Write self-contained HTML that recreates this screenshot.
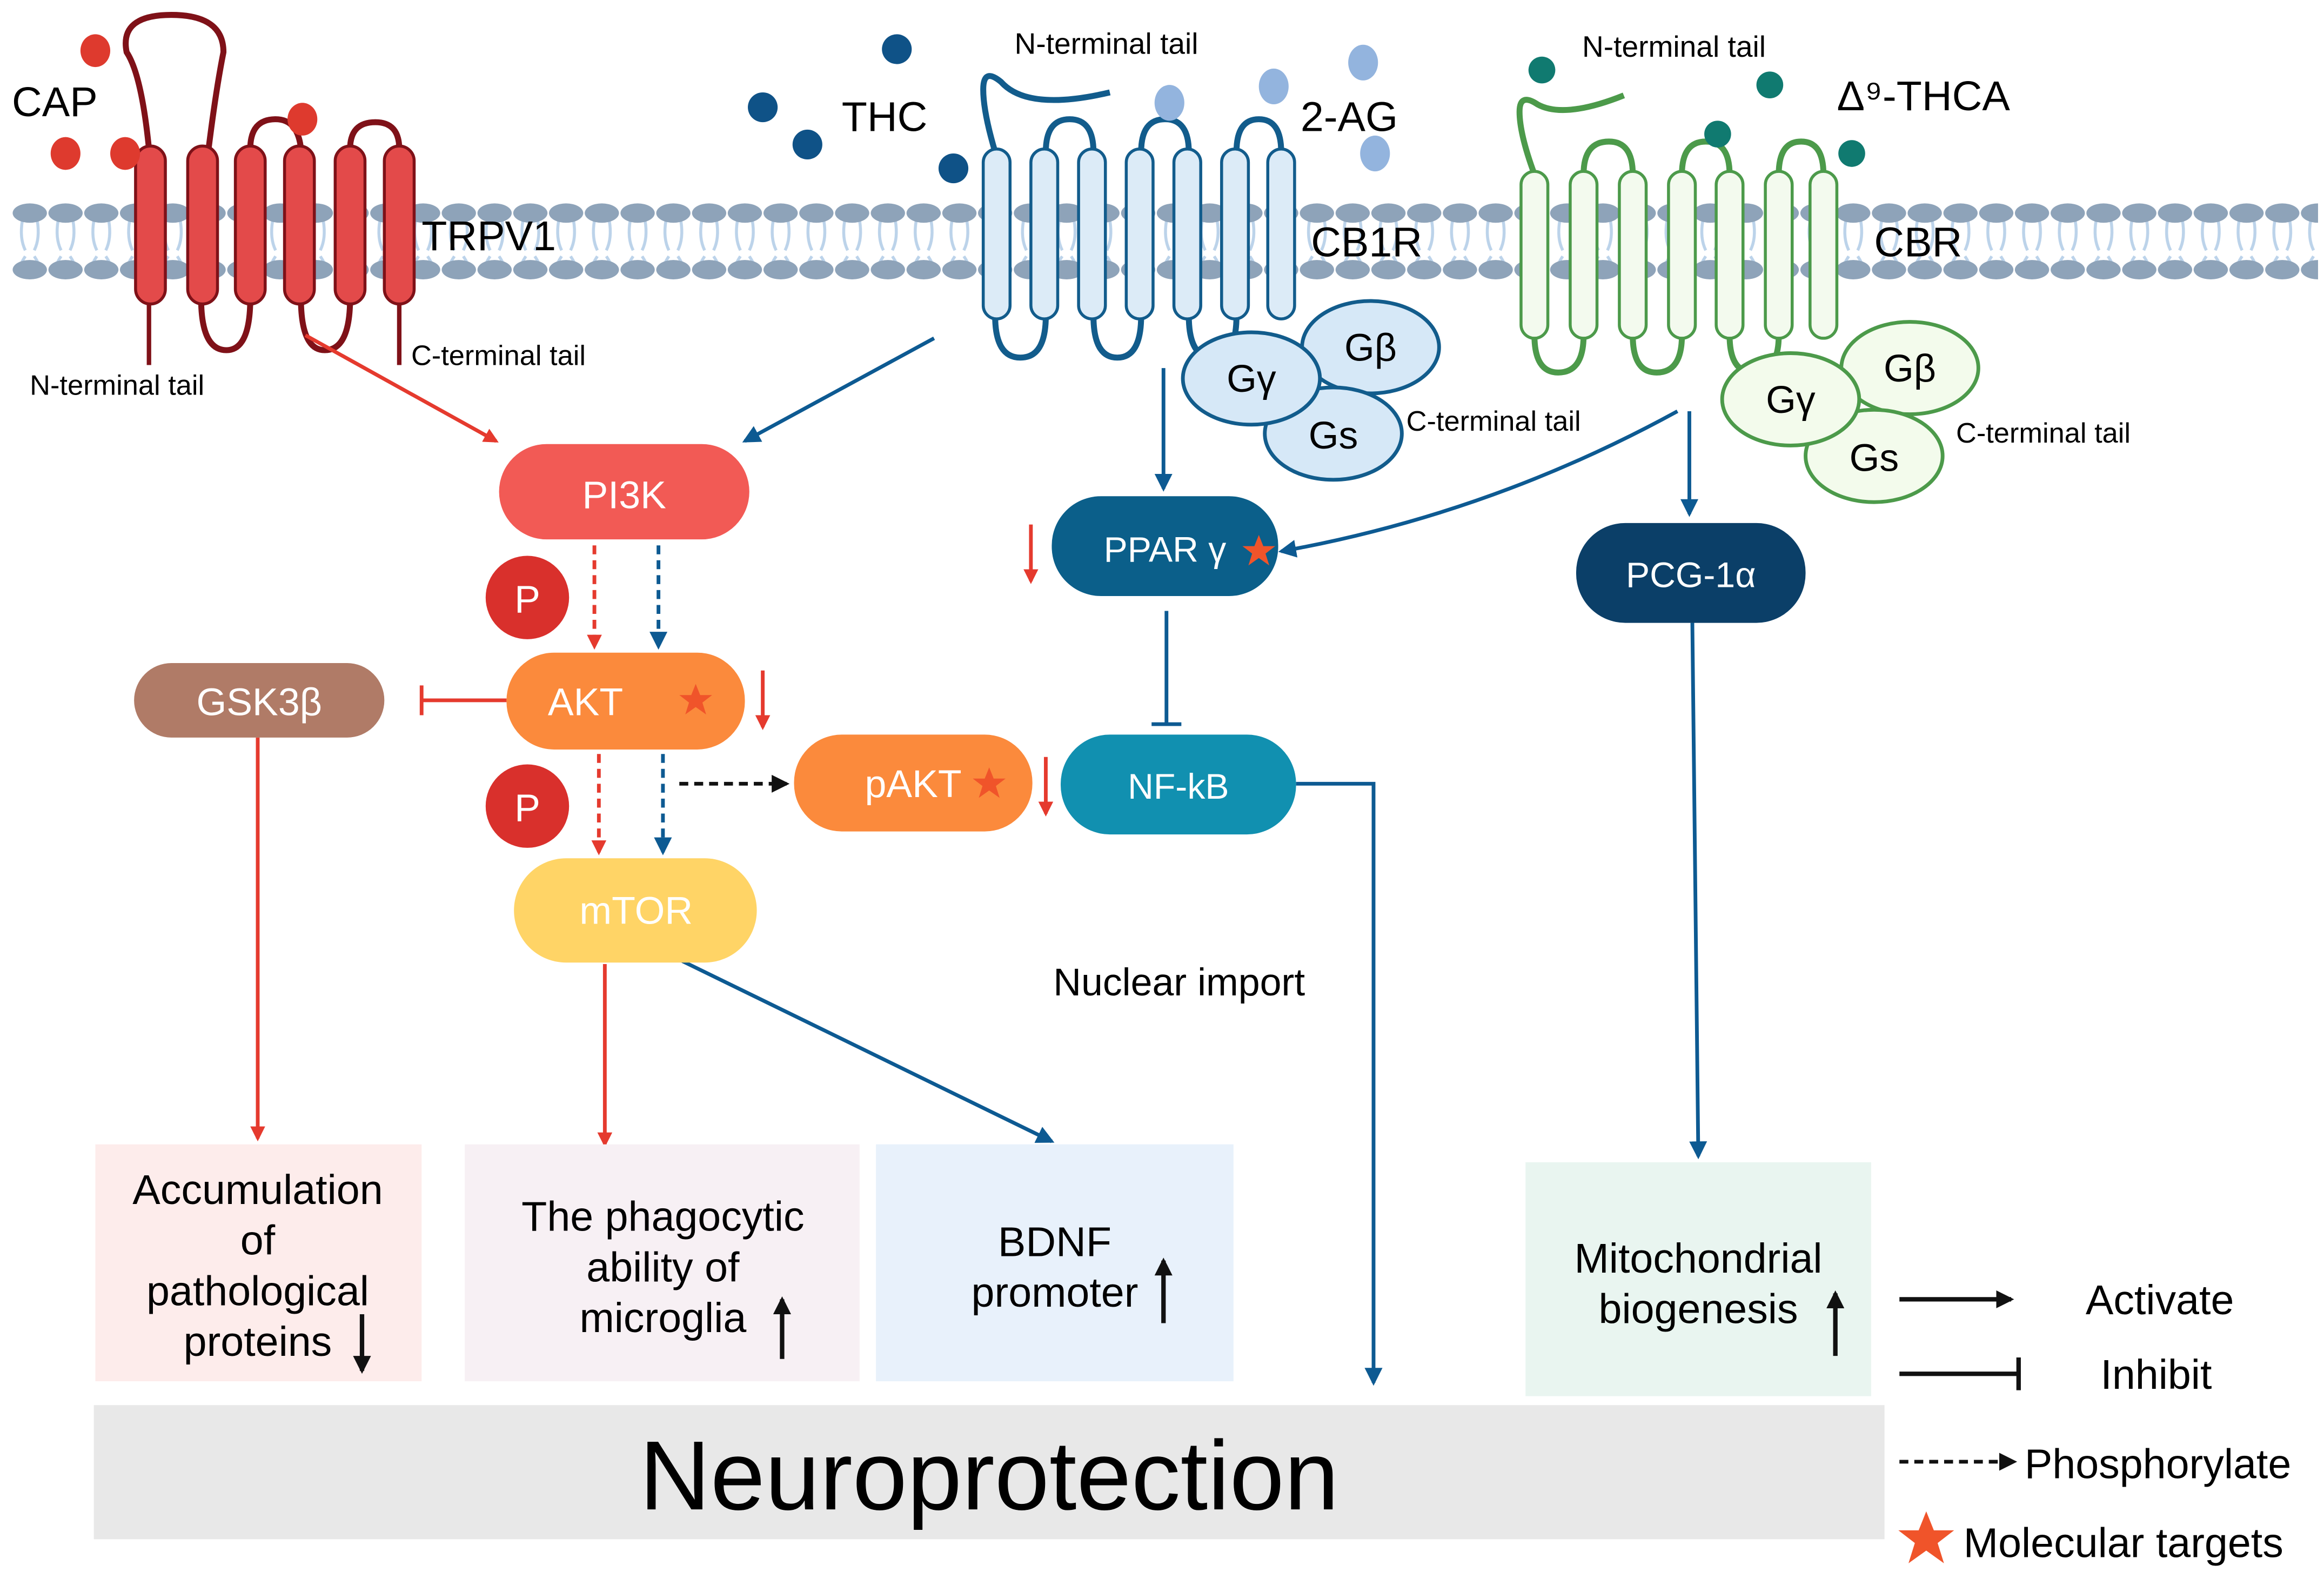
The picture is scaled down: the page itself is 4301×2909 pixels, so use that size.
<!DOCTYPE html>
<html><head><meta charset="utf-8"><style>
html,body{margin:0;padding:0;background:#fff;}
svg{display:block;}
text{font-family:"Liberation Sans",Arial,sans-serif;}
</style></head><body>
<svg width="4301" height="2909" viewBox="0 0 1560 1055" preserveAspectRatio="none" xmlns="http://www.w3.org/2000/svg">
<defs>
<pattern id="lip" x="8" y="0" width="24" height="1055" patternUnits="userSpaceOnUse">
<path d="M7,148 Q5,160 9,168 M17,148 Q19,160 15,168 M9,172 Q5,178 7,178 M15,172 Q19,178 17,178" stroke="#bcd3ea" stroke-width="2" fill="none"/>
<ellipse cx="12" cy="143" rx="11.5" ry="6.5" fill="#8ea3b9"/>
<ellipse cx="12" cy="181" rx="11.5" ry="6.5" fill="#8ea3b9"/>
</pattern>
<marker id="ar" markerWidth="10" markerHeight="10" refX="8" refY="5" orient="auto" markerUnits="userSpaceOnUse"><path d="M0,0 L10,5 L0,10 z" fill="#e53a2e"/></marker>
<marker id="ab" markerWidth="12" markerHeight="12" refX="10" refY="6" orient="auto" markerUnits="userSpaceOnUse"><path d="M0,0 L12,6 L0,12 z" fill="#0d5a92"/></marker>
<marker id="ak" markerWidth="12" markerHeight="12" refX="10" refY="6" orient="auto" markerUnits="userSpaceOnUse"><path d="M0,0 L12,6 L0,12 z" fill="#111"/></marker>
<g id="star"><path d="M0,-11 L3,-3.5 L11,-3.5 L4.5,1.5 L7,9.5 L0,4.5 L-7,9.5 L-4.5,1.5 L-11,-3.5 L-3,-3.5 z" fill="#f0542a"/></g>
</defs>
<rect width="1560" height="1055" fill="#fff"/>
<rect x="8" y="130" width="1548" height="60" fill="url(#lip)"/>

<!-- TRPV1 -->
<g stroke="#7f1118" stroke-width="4" fill="none">
<path d="M100,100 Q95,50 85,35 Q80,10 115,10 Q150,10 150,35 Q145,60 140,100"/>
<path d="M168,100 Q168,80 185,80 Q200,80 202,100"/>
<path d="M235,100 Q235,82 252,82 Q268,82 268,100"/>
<path d="M135,200 Q135,235 152,235 Q168,235 168,200"/>
<path d="M202,200 Q202,235 218,235 Q235,235 235,200"/>
<path d="M100,200 L100,245" stroke-width="3"/>
<path d="M268,200 L268,245" stroke-width="3"/>
</g>
<g fill="#e34a4a" stroke="#7f1118" stroke-width="2">
<rect x="91" y="98" width="20" height="106" rx="10"/><rect x="126" y="98" width="20" height="106" rx="10"/><rect x="158" y="98" width="20" height="106" rx="10"/><rect x="191" y="98" width="20" height="106" rx="10"/><rect x="225" y="98" width="20" height="106" rx="10"/><rect x="258" y="98" width="20" height="106" rx="10"/>
</g>
<g fill="#de3a2e"><ellipse cx="64" cy="34" rx="10" ry="11"/><ellipse cx="44" cy="103" rx="10" ry="11"/><ellipse cx="84" cy="103" rx="10" ry="11"/><ellipse cx="203" cy="80" rx="10" ry="11"/></g>
<text x="8" y="78" font-size="28">CAP</text>
<text x="283" y="168" font-size="28">TRPV1</text>
<text x="276" y="245" font-size="19">C-terminal tail</text>
<text x="20" y="265" font-size="19">N-terminal tail</text>

<!-- CB1R -->
<g stroke="#125c8c" stroke-width="4" fill="none">
<path d="M668,102 Q660,75 660,60 Q660,45 672,55 Q690,75 745,62"/>
<path d="M702,102 Q702,80 718,80 Q734,80 734,102"/>
<path d="M766,102 Q766,80 782,80 Q798,80 798,102"/>
<path d="M830,102 Q830,80 845,80 Q860,80 860,102"/>
<path d="M668,212 Q668,240 685,240 Q702,240 702,212"/>
<path d="M734,212 Q734,240 750,240 Q766,240 766,212"/>
<path d="M798,212 Q798,240 814,240 Q830,240 830,212"/>
</g>
<g fill="#dcebf7" stroke="#125c8c" stroke-width="2">
<rect x="660" y="100" width="18" height="114" rx="9"/><rect x="692" y="100" width="18" height="114" rx="9"/><rect x="724" y="100" width="18" height="114" rx="9"/><rect x="756" y="100" width="18" height="114" rx="9"/><rect x="788" y="100" width="18" height="114" rx="9"/><rect x="820" y="100" width="18" height="114" rx="9"/><rect x="851" y="100" width="18" height="114" rx="9"/>
</g>
<g fill="#0f5287"><circle cx="602" cy="33" r="10"/><circle cx="512" cy="72" r="10"/><circle cx="542" cy="97" r="10"/><circle cx="640" cy="113" r="10"/></g>
<g fill="#93b4de"><ellipse cx="785" cy="69" rx="10" ry="12"/><ellipse cx="855" cy="58" rx="10" ry="12"/><ellipse cx="915" cy="42" rx="10" ry="12"/><ellipse cx="923" cy="103" rx="10" ry="12"/></g>
<text x="565" y="88" font-size="28">THC</text>
<text x="681" y="36" font-size="20">N-terminal tail</text>
<text x="873" y="88" font-size="28">2-AG</text>
<text x="880" y="172" font-size="28">CB1R</text>
<g fill="#d6e8f7" stroke="#125c8c" stroke-width="2.5">
<ellipse cx="920" cy="233" rx="46" ry="31"/><ellipse cx="895" cy="291" rx="46" ry="31"/><ellipse cx="840" cy="254" rx="46" ry="31"/>
</g>
<text x="840" y="263" font-size="26" text-anchor="middle">Gγ</text>
<text x="920" y="242" font-size="26" text-anchor="middle">Gβ</text>
<text x="895" y="301" font-size="26" text-anchor="middle">Gs</text>
<text x="944" y="289" font-size="19">C-terminal tail</text>

<!-- CBR -->
<g stroke="#4c9a4a" stroke-width="4" fill="none">
<path d="M1030,117 Q1020,90 1020,75 Q1020,62 1032,70 Q1050,80 1090,64"/>
<path d="M1063,117 Q1063,95 1080,95 Q1096,95 1096,117"/>
<path d="M1129,117 Q1129,95 1145,95 Q1161,95 1161,117"/>
<path d="M1194,117 Q1194,95 1209,95 Q1224,95 1224,117"/>
<path d="M1030,225 Q1030,250 1046,250 Q1063,250 1063,225"/>
<path d="M1096,225 Q1096,250 1112,250 Q1129,250 1129,225"/>
<path d="M1161,225 Q1161,250 1177,250 Q1194,250 1194,225"/>
</g>
<g fill="#f3faee" stroke="#4c9a4a" stroke-width="2">
<rect x="1021" y="115" width="18" height="112" rx="9"/><rect x="1054" y="115" width="18" height="112" rx="9"/><rect x="1087" y="115" width="18" height="112" rx="9"/><rect x="1120" y="115" width="18" height="112" rx="9"/><rect x="1152" y="115" width="18" height="112" rx="9"/><rect x="1185" y="115" width="18" height="112" rx="9"/><rect x="1215" y="115" width="18" height="112" rx="9"/>
</g>
<g fill="#107a70"><circle cx="1035" cy="47" r="9"/><circle cx="1188" cy="57" r="9"/><circle cx="1153" cy="90" r="9"/><circle cx="1243" cy="103" r="9"/></g>
<text x="1062" y="38" font-size="20">N-terminal tail</text>
<text x="1233" y="74" font-size="28">Δ⁹-THCA</text>
<text x="1258" y="172" font-size="28">CBR</text>
<g fill="#f3fbec" stroke="#4c9a4a" stroke-width="2.5">
<ellipse cx="1282" cy="247" rx="46" ry="31"/><ellipse cx="1258" cy="306" rx="46" ry="31"/><ellipse cx="1202" cy="268" rx="46" ry="31"/>
</g>
<text x="1202" y="277" font-size="26" text-anchor="middle">Gγ</text>
<text x="1282" y="256" font-size="26" text-anchor="middle">Gβ</text>
<text x="1258" y="316" font-size="26" text-anchor="middle">Gs</text>
<text x="1313" y="297" font-size="19">C-terminal tail</text>

<!-- connectors -->
<line x1="205" y1="225" x2="333" y2="296" stroke="#e53a2e" stroke-width="2.5" marker-end="url(#ar)"/>
<line x1="627" y1="227" x2="500" y2="296" stroke="#0d5a92" stroke-width="2.5" marker-end="url(#ab)"/>
<line x1="781" y1="247" x2="781" y2="328" stroke="#0d5a92" stroke-width="2.5" marker-end="url(#ab)"/>
<path d="M1126,276 Q1000,345 860,370" stroke="#0d5a92" stroke-width="2.5" fill="none" marker-end="url(#ab)"/>
<line x1="1134" y1="276" x2="1134" y2="345" stroke="#0d5a92" stroke-width="2.5" marker-end="url(#ab)"/>
<line x1="399" y1="366" x2="399" y2="434" stroke="#e53a2e" stroke-width="2.5" stroke-dasharray="6,4" marker-end="url(#ar)"/>
<line x1="442" y1="366" x2="442" y2="434" stroke="#0d5a92" stroke-width="2.5" stroke-dasharray="6,4" marker-end="url(#ab)"/>
<line x1="402" y1="506" x2="402" y2="572" stroke="#e53a2e" stroke-width="2.5" stroke-dasharray="6,4" marker-end="url(#ar)"/>
<line x1="445" y1="506" x2="445" y2="572" stroke="#0d5a92" stroke-width="2.5" stroke-dasharray="6,4" marker-end="url(#ab)"/>
<line x1="456" y1="526" x2="528" y2="526" stroke="#111" stroke-width="2.5" stroke-dasharray="6,4" marker-end="url(#ak)"/>
<line x1="340" y1="470" x2="283" y2="470" stroke="#e53a2e" stroke-width="2.5"/>
<line x1="283" y1="460" x2="283" y2="480" stroke="#e53a2e" stroke-width="2.5"/>
<line x1="783" y1="410" x2="783" y2="485" stroke="#0d5a92" stroke-width="2.5"/>
<line x1="773" y1="486" x2="793" y2="486" stroke="#0d5a92" stroke-width="2.5"/>
<line x1="173" y1="495" x2="173" y2="764" stroke="#e53a2e" stroke-width="2.5" marker-end="url(#ar)"/>
<line x1="406" y1="647" x2="406" y2="768" stroke="#e53a2e" stroke-width="2.5" marker-end="url(#ar)"/>
<line x1="458" y1="645" x2="706" y2="766" stroke="#0d5a92" stroke-width="2.5" marker-end="url(#ab)"/>
<path d="M870,526 L922,526 L922,928" stroke="#0d5a92" stroke-width="2.5" fill="none" marker-end="url(#ab)"/>
<line x1="1136" y1="418" x2="1140" y2="776" stroke="#0d5a92" stroke-width="2.5" marker-end="url(#ab)"/>

<!-- nodes -->
<rect x="335" y="298" width="168" height="64" rx="32" fill="#f25a55"/>
<text x="419" y="341" font-size="26" fill="#fff" text-anchor="middle">PI3K</text>
<rect x="90" y="445" width="168" height="50" rx="25" fill="#b07b67"/>
<text x="174" y="480" font-size="26" fill="#fff" text-anchor="middle">GSK3β</text>
<rect x="340" y="438" width="160" height="65" rx="32" fill="#fb8a3c"/>
<text x="393" y="480" font-size="26" fill="#fff" text-anchor="middle">AKT</text>
<use href="#star" x="467" y="470"/>
<rect x="345" y="576" width="163" height="70" rx="35" fill="#ffd466"/>
<text x="427" y="620" font-size="26" fill="#fff" text-anchor="middle">mTOR</text>
<rect x="533" y="493" width="160" height="65" rx="32" fill="#fb8a3c"/>
<text x="613" y="535" font-size="26" fill="#fff" text-anchor="middle">pAKT</text>
<use href="#star" x="664" y="526"/>
<rect x="706" y="333" width="152" height="67" rx="33" fill="#0b5f8a"/>
<text x="782" y="377" font-size="24" fill="#fff" text-anchor="middle">PPAR γ</text>
<use href="#star" x="845" y="370"/>
<rect x="712" y="493" width="158" height="67" rx="33" fill="#1190b0"/>
<text x="791" y="536" font-size="24" fill="#fff" text-anchor="middle">NF-kB</text>
<rect x="1058" y="351" width="154" height="67" rx="33" fill="#0b3f68"/>
<text x="1135" y="394" font-size="24" fill="#fff" text-anchor="middle">PCG-1α</text>
<circle cx="354" cy="401" r="28" fill="#d9302c"/><text x="354" y="411" font-size="26" fill="#fff" text-anchor="middle">P</text>
<circle cx="354" cy="541" r="28" fill="#d9302c"/><text x="354" y="551" font-size="26" fill="#fff" text-anchor="middle">P</text>
<!-- small down arrows -->
<g stroke="#e53a2e" stroke-width="2.5" marker-end="url(#ar)">
<line x1="512" y1="450" x2="512" y2="488"/>
<line x1="702" y1="508" x2="702" y2="546"/>
<line x1="692" y1="352" x2="692" y2="390"/>
</g>
<text x="707" y="668" font-size="26">Nuclear import</text>

<!-- boxes -->
<rect x="64" y="768" width="219" height="159" fill="#fdeceb"/>
<text font-size="28" text-anchor="middle"><tspan x="173" y="808">Accumulation</tspan><tspan x="173" y="842">of</tspan><tspan x="173" y="876">pathological</tspan><tspan x="173" y="910">proteins</tspan></text>
<line x1="243" y1="882" x2="243" y2="920" stroke="#111" stroke-width="3" marker-end="url(#ak)"/>
<rect x="312" y="768" width="265" height="159" fill="#f7f0f4"/>
<text font-size="28" text-anchor="middle"><tspan x="445" y="826">The phagocytic</tspan><tspan x="445" y="860">ability of</tspan><tspan x="445" y="894">microglia</tspan></text>
<line x1="525" y1="912" x2="525" y2="872" stroke="#111" stroke-width="3" marker-end="url(#ak)"/>
<rect x="588" y="768" width="240" height="159" fill="#e8f1fb"/>
<text font-size="28" text-anchor="middle"><tspan x="708" y="843">BDNF</tspan><tspan x="708" y="877">promoter</tspan></text>
<line x1="781" y1="888" x2="781" y2="846" stroke="#111" stroke-width="3" marker-end="url(#ak)"/>
<rect x="1024" y="780" width="232" height="157" fill="#e9f5f0"/>
<text font-size="28" text-anchor="middle"><tspan x="1140" y="854">Mitochondrial</tspan><tspan x="1140" y="888">biogenesis</tspan></text>
<line x1="1232" y1="910" x2="1232" y2="868" stroke="#111" stroke-width="3" marker-end="url(#ak)"/>
<rect x="63" y="943" width="1202" height="90" fill="#e8e8e8"/>
<text x="664" y="1013" font-size="66" text-anchor="middle">Neuroprotection</text>

<!-- legend -->
<line x1="1275" y1="872" x2="1350" y2="872" stroke="#111" stroke-width="3" marker-end="url(#ak)"/>
<text x="1400" y="882" font-size="28">Activate</text>
<line x1="1275" y1="922" x2="1355" y2="922" stroke="#111" stroke-width="3"/>
<line x1="1355" y1="911" x2="1355" y2="933" stroke="#111" stroke-width="3"/>
<text x="1410" y="932" font-size="28">Inhibit</text>
<line x1="1275" y1="981" x2="1352" y2="981" stroke="#111" stroke-width="2.5" stroke-dasharray="6,4" marker-end="url(#ak)"/>
<text x="1359" y="992" font-size="28">Phosphorylate</text>
<g transform="translate(1293,1033) scale(1.7)"><use href="#star"/></g>
<text x="1318" y="1045" font-size="28">Molecular targets</text>
</svg>
</body></html>
